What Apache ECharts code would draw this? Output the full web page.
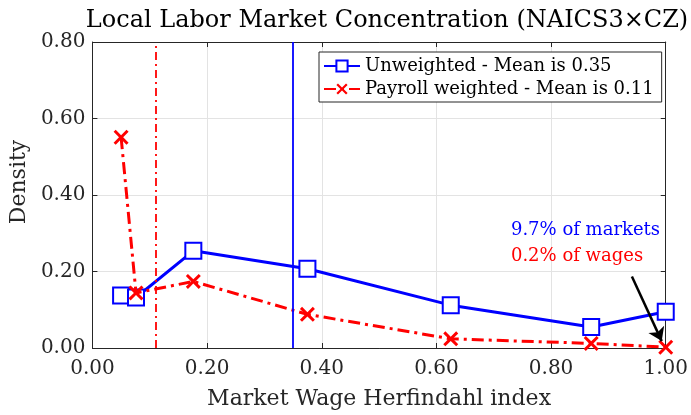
<!DOCTYPE html>
<html>
<head>
<meta charset="utf-8">
<script src="https://cdn.jsdelivr.net/npm/echarts@6/dist/echarts.min.js"></script>
<style>
  html, body { margin: 0; padding: 0; background: #fff; }
  #main { width: 691px; height: 415px; }
</style>
</head>
<body>
<div id="main"></div>
<script>
// bin centres on the Herfindahl axis
var binX = [0.05, 0.076, 0.176, 0.375, 0.625, 0.87, 1.0]
var unweighted = [0.137, 0.132, 0.254, 0.207, 0.112, 0.055, 0.095]
var payroll = [0.551, 0.144, 0.174, 0.088, 0.024, 0.012, 0.002]
var meanUnweighted = 0.35
var meanPayroll = 0.11
var xTicks = [0, 0.2, 0.4, 0.6, 0.8, 1.0]
var yTicks = [0, 0.2, 0.4, 0.6, 0.8]

var FONT = 'DejaVu Serif'
var AXIS = '#262626'
var crossPath = 'path://M0,1.4L1.4,0L5,3.6L8.6,0L10,1.4L6.4,5L10,8.6L8.6,10L5,6.4L1.4,10L0,8.6L3.6,5Z'

function pairs(xs, ys) {
  var out = []
  for (var i = 0; i < xs.length; i++) out.push([xs[i], ys[i]])
  return out
}

var chart = echarts.init(document.getElementById('main'))

var xBase = {
  type: 'value', min: xTicks[0], max: xTicks[xTicks.length - 1], interval: 0.2,
  axisLine: { show: true, onZero: false, lineStyle: { color: AXIS, width: 1 } },
  axisTick: { show: true, inside: true, length: 5, lineStyle: { color: AXIS } }
}
var yBase = {
  type: 'value', min: yTicks[0], max: yTicks[yTicks.length - 1], interval: 0.2,
  axisLine: { show: true, onZero: false, lineStyle: { color: AXIS, width: 1 } },
  axisTick: { show: true, inside: true, length: 5, lineStyle: { color: AXIS } }
}

var options = {
  animation: false,
  backgroundColor: '#fff',
  textStyle: { fontFamily: FONT },
  title: {
    text: 'Local Labor Market Concentration (NAICS3×CZ)',
    left: 382,
    textAlign: 'center',
    top: 4,
    textStyle: { fontFamily: FONT, fontSize: 24, fontWeight: 'normal', color: '#000' }
  },
  grid: { left: 90, right: 22, top: 42, bottom: 62 },
  legend: {
    orient: 'vertical',
    left: 319,
    top: 52,
    width: 340,
    padding: [5, 8, 4, 4],
    itemGap: 5,
    itemWidth: 36,
    itemHeight: 14,
    borderColor: AXIS,
    borderWidth: 1,
    backgroundColor: '#fff',
    textStyle: { fontFamily: FONT, fontSize: 18, color: '#000' },
    data: ['Unweighted - Mean is 0.35', 'Payroll weighted - Mean is 0.11']
  },
  xAxis: [
    Object.assign({}, xBase, {
      position: 'bottom',
      name: 'Market Wage Herfindahl index',
      nameLocation: 'middle',
      nameGap: 40,
      nameTextStyle: { fontFamily: FONT, fontSize: 22, color: AXIS },
      axisLabel: { fontFamily: FONT, fontSize: 20, color: AXIS, margin: 11,
        formatter: function (v) { return v.toFixed(2) } },
      splitLine: { show: true, lineStyle: { color: '#e3e3e3', width: 1 } }
    }),
    Object.assign({}, xBase, {
      position: 'top',
      axisLabel: { show: false },
      splitLine: { show: false }
    })
  ],
  yAxis: [
    Object.assign({}, yBase, {
      position: 'left',
      name: 'Density',
      nameLocation: 'middle',
      nameGap: 59,
      nameTextStyle: { fontFamily: FONT, fontSize: 22, color: AXIS, padding: [0, 0, 0, 26] },
      axisLabel: { fontFamily: FONT, fontSize: 20, color: AXIS, margin: 7,
        formatter: function (v) { return v.toFixed(2) } },
      splitLine: { show: true, lineStyle: { color: '#e3e3e3', width: 1 } }
    }),
    Object.assign({}, yBase, {
      position: 'right',
      axisLabel: { show: false },
      splitLine: { show: false }
    })
  ],
  series: [
    {
      name: 'Unweighted - Mean is 0.35',
      type: 'line',
      data: pairs(binX, unweighted),
      color: '#0000ff',
      symbol: 'emptyRect',
      symbolSize: 16,
      lineStyle: { color: '#0000ff', width: 3 },
      itemStyle: { color: '#0000ff', borderColor: '#0000ff', borderWidth: 3 },
      z: 3,
      markLine: {
        silent: true,
        symbol: ['none', 'none'],
        label: { show: false },
        lineStyle: { color: '#0000ff', width: 1.8, type: 'solid' },
        data: [{ xAxis: meanUnweighted }]
      }
    },
    {
      name: 'Payroll weighted - Mean is 0.11',
      type: 'line',
      data: pairs(binX, payroll),
      color: '#ff0000',
      symbol: crossPath,
      symbolSize: 15,
      lineStyle: { color: '#ff0000', width: 3, type: [12, 5, 3, 5] },
      itemStyle: { color: '#ff0000' },
      z: 4,
      markLine: {
        silent: true,
        symbol: ['none', 'none'],
        label: { show: false },
        lineStyle: { color: '#ff0000', width: 1.8, type: [8, 4, 2, 4] },
        data: [{ xAxis: meanPayroll }]
      }
    },
    {
      // annotation arrow pointing at the top bin
      name: 'arrow',
      type: 'line',
      data: [],
      markLine: {
        silent: true,
        symbol: ['none', 'arrow'],
        symbolSize: 13,
        label: { show: false },
        lineStyle: { color: '#000', width: 2.5, type: 'solid' },
        data: [[{ coord: [0.941, 0.187] }, { coord: [0.993, 0.018] }]]
      }
    }
  ]
}
chart.setOption(options)

// annotation texts placed in data coordinates
var p1 = chart.convertToPixel({ gridIndex: 0 }, [0.73, 0.303])
var p2 = chart.convertToPixel({ gridIndex: 0 }, [0.73, 0.234])
chart.setOption({
  graphic: [
    { type: 'text', left: p1[0], top: p1[1] - 11,
      style: { text: '9.7% of markets', fill: '#0000ff', font: '18px "DejaVu Serif"' } },
    { type: 'text', left: p2[0], top: p2[1] - 11,
      style: { text: '0.2% of wages', fill: '#ff0000', font: '18px "DejaVu Serif"' } }
  ]
})
</script>
</body>
</html>
